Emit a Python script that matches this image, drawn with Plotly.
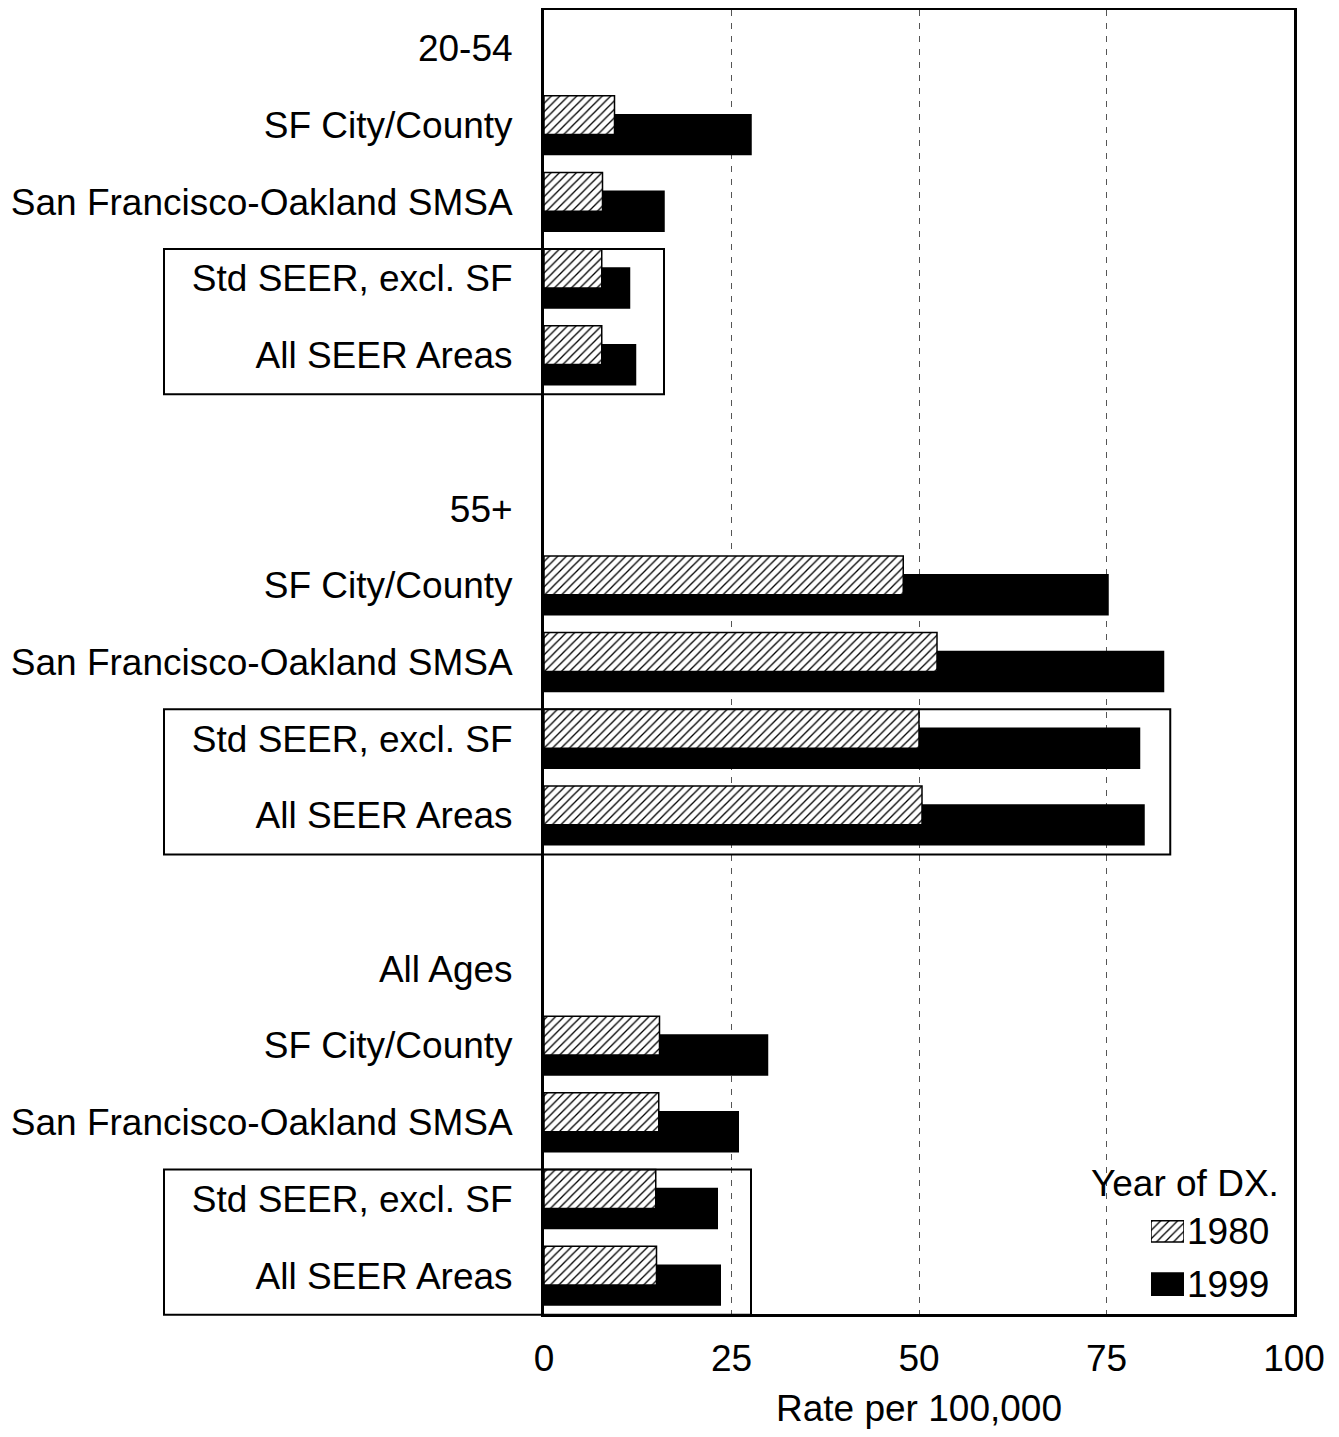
import plotly.graph_objects as go

# ---------------- data ----------------
age_groups = ["20-54", "55+", "All Ages"]
areas = ["SF City/County", "San Francisco-Oakland SMSA", "Std SEER, excl. SF", "All SEER Areas"]

rate_1980_20_54 = [9.4, 7.8, 7.7, 7.7]
rate_1999_20_54 = [27.6, 16.0, 11.4, 12.2]
rate_1980_55 = [47.9, 52.4, 50.0, 50.4]
rate_1999_55 = [75.2, 82.6, 79.4, 80.0]
rate_1980_all = [15.4, 15.3, 14.9, 15.0]
rate_1999_all = [29.8, 25.9, 23.1, 23.5]

x_ticks = [0, 25, 50, 75, 100]
legend_title = "Year of DX."
years = ["1980", "1999"]
box_right = [16.0, 83.5, 27.6]   # right edge of the SEER boxes (rate units)

# ---------------- rows ----------------
rates_1980 = [rate_1980_20_54, rate_1980_55, rate_1980_all]
rates_1999 = [rate_1999_20_54, rate_1999_55, rate_1999_all]

tickvals, ticktext = [], []
ys, x80, x99 = [], [], []
box_rows = []
row = 0
for gi, g in enumerate(age_groups):
    tickvals.append(row)
    ticktext.append(g)
    row += 1
    rows_here = []
    for ai, a in enumerate(areas):
        tickvals.append(row)
        ticktext.append(a)
        ys.append(row)
        x80.append(rates_1980[gi][ai])
        x99.append(rates_1999[gi][ai])
        rows_here.append(row)
        row += 1
    box_rows.append((rows_here[2], rows_here[3]))
    row += 1  # spacer row
n_rows = row - 1
y_lo, y_hi = -0.5, n_rows - 0.5

FONT = "Liberation Sans, Arial, sans-serif"
FS = 37
HATCH = dict(shape="/", fgcolor="black", bgcolor="white", size=6, solidity=0.22)

# ---------------- geometry (page body has an 8px margin) ----------------
OFF = 8
W, H = 1339 - 2 * OFF, 1437 - 2 * OFF
ml, mr, mt, mb = 536, 37, 2, 115
pw, ph = W - ml - mr, H - mt - mb
xr = [0, 100]

def pgx(px):   # page pixel -> paper x
    return (px - OFF - ml) / pw

def pgy(py):   # page pixel -> paper y
    return (H - mb - (py - OFF)) / ph

def dx(v):
    return (v - xr[0]) / (xr[1] - xr[0])

def dy(v):
    return (y_hi - v) / (y_hi - y_lo)

fig = go.Figure()
fig.add_trace(go.Bar(
    orientation="h", y=ys, x=x99, name=years[1], showlegend=False,
    offset=-0.136, width=0.52,
    marker=dict(color="black", line=dict(color="black", width=1.5)),
))
fig.add_trace(go.Bar(
    orientation="h", y=ys, x=x80, name=years[0], showlegend=False,
    offset=-0.383, width=0.506,
    marker=dict(color="white", line=dict(color="black", width=1.5), pattern=HATCH),
))

# legend keys as a tiny category chart (year labels are its tick labels)
fig.add_trace(go.Bar(
    orientation="h", y=[years[0]], x=[1], xaxis="x2", yaxis="y2", showlegend=False,
    width=0.4, cliponaxis=False,
    marker=dict(color="white", line=dict(color="black", width=1.5), pattern=HATCH),
))
fig.add_trace(go.Bar(
    orientation="h", y=[years[1]], x=[1], xaxis="x2", yaxis="y2", showlegend=False,
    width=0.42, cliponaxis=False,
    marker=dict(color="black", line=dict(color="black", width=1.5)),
))

shapes = []
for (r0, r1), xr_ in zip(box_rows, box_right):
    shapes.append(dict(
        type="rect", xref="paper", yref="paper",
        x0=pgx(164), x1=dx(xr_),
        y0=dy(r1 + 0.51), y1=dy(r0 - 0.385),
        line=dict(color="black", width=2), fillcolor="rgba(0,0,0,0)", layer="above",
    ))

fig.update_layout(
    template="none",
    width=W, height=H,
    margin=dict(l=ml, r=mr, t=mt, b=mb, pad=0),
    paper_bgcolor="white", plot_bgcolor="rgba(0,0,0,0)",
    barmode="overlay",
    font=dict(family=FONT, size=FS, color="black"),
    shapes=shapes,
    showlegend=False,
    annotations=[dict(
        text=legend_title, xref="paper", yref="paper",
        x=pgx(1281), xanchor="right",
        y=pgy(1183), yanchor="middle",
        showarrow=False, font=dict(family=FONT, size=FS, color="black"),
    )],
    xaxis=dict(
        range=xr, tickvals=x_ticks, ticktext=[str(t) for t in x_ticks],
        showgrid=True, gridcolor="#555555", gridwidth=1, griddash="6px,7px",
        zeroline=False, showline=True, linecolor="black", linewidth=3, mirror=True,
        ticks="", ticklabelstandoff=10, automargin=False,
        title=dict(text="Rate per 100,000", standoff=31, font=dict(family=FONT, size=FS)),
        tickfont=dict(family=FONT, size=FS),
    ),
    yaxis=dict(
        range=[y_hi, y_lo], tickvals=tickvals, ticktext=ticktext,
        showgrid=False, zeroline=False, showline=True, linecolor="black", linewidth=3, mirror=True,
        ticks="", ticklabelstandoff=21, automargin=False,
        tickfont=dict(family=FONT, size=FS),
    ),
    xaxis2=dict(
        domain=[pgx(1151), pgx(1184)], anchor="y2", range=[0, 1],
        showgrid=False, zeroline=False, showline=False, showticklabels=False, ticks="",
    ),
    yaxis2=dict(
        domain=[pgy(1310.5), pgy(1205)], anchor="x2", side="right",
        type="category", categoryarray=years, categoryorder="array", autorange="reversed",
        showgrid=False, zeroline=False, showline=False, ticks="",
        ticklabelstandoff=2, automargin=False,
        tickfont=dict(family=FONT, size=FS),
    ),
)

fig.write_html("out.html")
